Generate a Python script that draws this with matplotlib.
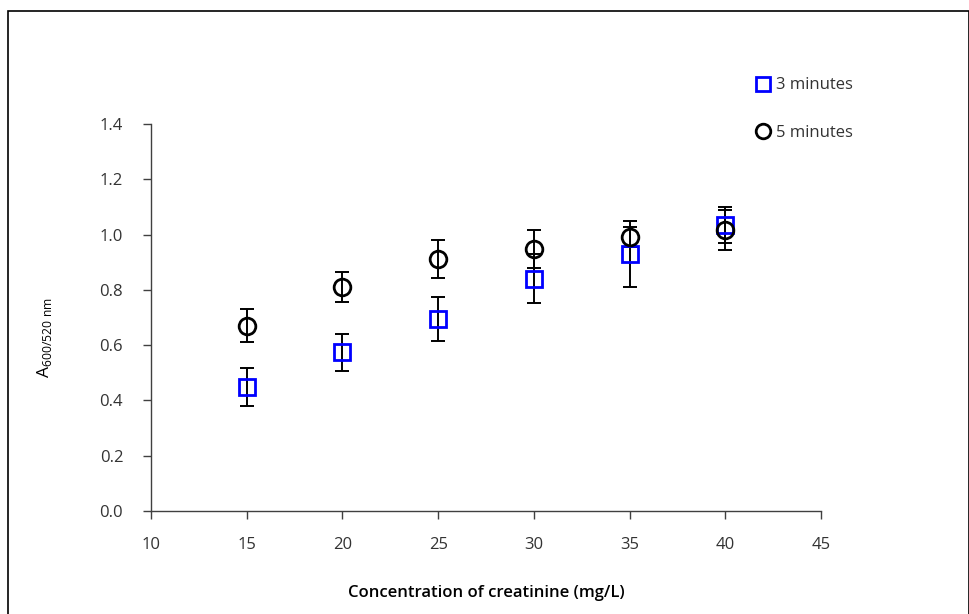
import matplotlib
matplotlib.use("Agg")
import matplotlib.pyplot as plt
from matplotlib.lines import Line2D
from matplotlib.patches import Rectangle

plt.rcParams['font.family'] = ['Open Sans', 'DejaVu Sans']

conc = [15, 20, 25, 30, 35, 40]
a3 = [0.449, 0.575, 0.695, 0.840, 0.930, 1.035]
e3 = [0.068, 0.067, 0.079, 0.089, 0.120, 0.065]
a5 = [0.670, 0.811, 0.912, 0.947, 0.991, 1.017]
e5 = [0.060, 0.055, 0.069, 0.069, 0.035, 0.072]
xticks = [10, 15, 20, 25, 30, 35, 40, 45]
yticks = [0.0, 0.2, 0.4, 0.6, 0.8, 1.0, 1.2, 1.4]

fig = plt.figure(figsize=(9.70, 6.14), dpi=100)
fig.patches.append(Rectangle((8/970, -0.01), (969-8)/970, 1 - 11/614 + 0.01,
                             transform=fig.transFigure, fill=False,
                             edgecolor='black', linewidth=1.2))
ax = fig.add_axes([151/970, (614-511)/614, (821-151)/970, (511-124)/614])

ax.errorbar(conc, a3, yerr=e3, fmt='none', ecolor='black', elinewidth=1.4,
            capsize=5, capthick=1.4, zorder=2)
ax.errorbar(conc, a5, yerr=e5, fmt='none', ecolor='black', elinewidth=1.4,
            capsize=5, capthick=1.4, zorder=2)
ax.plot(conc, a3, linestyle='none', marker='s', markersize=11,
        markerfacecolor='none', markeredgecolor='#0000ff', markeredgewidth=2.0, zorder=3)
ax.plot(conc, a5, linestyle='none', marker='o', markersize=12,
        markerfacecolor='none', markeredgecolor='black', markeredgewidth=2.0, zorder=4)

ax.set_xlim(10, 45)
ax.set_ylim(0, 1.4)
ax.set_xticks(xticks)
ax.set_yticks(yticks)
ax.set_xticklabels([str(t) for t in xticks])
ax.set_yticklabels([f"{t:.1f}" for t in yticks])
for s in ['top', 'right']:
    ax.spines[s].set_visible(False)
for s in ['left', 'bottom']:
    ax.spines[s].set_color('#404040')
    ax.spines[s].set_linewidth(1.0)
ax.tick_params(axis='both', direction='out', length=6, width=1, color='#404040',
               labelsize=12, labelcolor='#333333')
ax.tick_params(axis='x', pad=13)
ax.tick_params(axis='y', pad=14)

ax.set_xlabel('Concentration of creatinine (mg/L)', fontsize=12, color='black',
              fontweight='semibold', labelpad=23)
fig.text(45/970, 1 - 338/614, r'A$_{\mathregular{600/520\ nm}}$', rotation=90,
         ha='center', va='center', fontsize=12.5)

handles = [Line2D([], [], linestyle='none', marker='s', markersize=9.5,
                  markerfacecolor='none', markeredgecolor='#0000ff', markeredgewidth=2.0),
           Line2D([], [], linestyle='none', marker='o', markersize=10.5,
                  markerfacecolor='none', markeredgecolor='black', markeredgewidth=2.0)]
fig.legend(handles, ['3 minutes', '5 minutes'], loc='upper left',
           bbox_to_anchor=(746/970, 1 - 69/614), frameon=False, fontsize=12,
           handlelength=1.0, handletextpad=0.3, labelspacing=1.9, borderpad=0,
           labelcolor='#333333')

fig.savefig('out.png', dpi=100)
